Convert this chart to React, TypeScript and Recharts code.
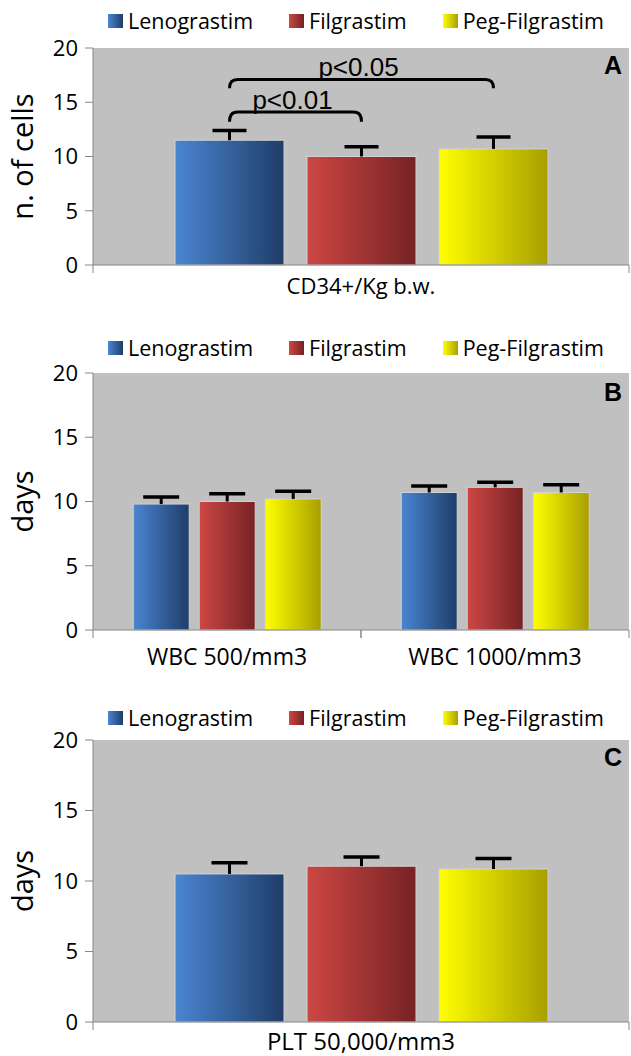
import { BarChart, Bar, XAxis, YAxis, CartesianGrid } from "recharts";

const FONT = "'Open Sans', 'Noto Sans', sans-serif";
const AXIS_GRAY = "#868686";

const seriesNames = ["Lenograstim", "Filgrastim", "Peg-Filgrastim"];
// left / right stop of the horizontal gradient on each bar
const seriesColors = [
  ["#4a86d2", "#1f3d68"],
  ["#cc4744", "#772224"],
  ["#ffff00", "#a89f00"],
];

const yTicks = [0, 5, 10, 15, 20];

// A - CD34+ cells
const cd34Categories = ["CD34+/Kg b.w."];
const cd34Lenograstim = [11.5];
const cd34Filgrastim = [10.0];
const cd34PegFilgrastim = [10.7];
const cd34LenograstimErr = [0.9];
const cd34FilgrastimErr = [0.9];
const cd34PegFilgrastimErr = [1.1];
const cd34Brackets = [
  { from: 0, to: 1, level: 14.1, drop: 0.9, text: "p<0.01" },
  { from: 0, to: 2, level: 17.1, drop: 0.8, text: "p<0.05" },
];

// B - WBC recovery
const wbcCategories = ["WBC 500/mm3", "WBC 1000/mm3"];
const wbcLenograstim = [9.8, 10.7];
const wbcFilgrastim = [10.0, 11.1];
const wbcPegFilgrastim = [10.2, 10.7];
const wbcLenograstimErr = [0.55, 0.5];
const wbcFilgrastimErr = [0.6, 0.4];
const wbcPegFilgrastimErr = [0.6, 0.6];

// C - PLT recovery
const pltCategories = ["PLT 50,000/mm3"];
const pltLenograstim = [10.5];
const pltFilgrastim = [11.05];
const pltPegFilgrastim = [10.85];
const pltLenograstimErr = [0.8];
const pltFilgrastimErr = [0.65];
const pltPegFilgrastimErr = [0.75];

type Row = { name: string; [k: string]: any };

function buildRows(categories: string[], values: number[][], errors: number[][]): Row[] {
  return categories.map((name, i) => {
    const row: Row = { name };
    values.forEach((v, s) => {
      row[`v${s}`] = v[i];
      row[`e${s}`] = errors[s][i];
    });
    return row;
  });
}

function ErrShape(props: any) {
  const { x, y, width, height, cap } = props;
  if (x == null || !height) return null;
  const cx = x + width / 2;
  return (
    <g>
      <line x1={cx} x2={cx} y1={y} y2={y + height} stroke="#000" strokeWidth={3} />
      <line x1={cx - cap} x2={cx + cap} y1={y} y2={y} stroke="#000" strokeWidth={3.5} />
    </g>
  );
}

function CategoryTick(props: any) {
  const { x, y, payload, fontSize, textDy } = props;
  const half = payload?.offset ?? 0;
  return (
    <g>
      <line x1={x - half} x2={x - half} y1={y} y2={y + 8} stroke={AXIS_GRAY} />
      <line x1={x + half} x2={x + half} y1={y} y2={y + 8} stroke={AXIS_GRAY} />
      <text x={x} y={y + textDy} textAnchor="middle" fontSize={fontSize} fontFamily={FONT} fill="#000">
        {payload.value}
      </text>
    </g>
  );
}

function YTitle(props: any) {
  const { text, mid } = props;
  return (
    <text
      x={33}
      y={mid}
      transform={`rotate(-90, 33, ${mid})`}
      textAnchor="middle"
      fontSize={29}
      fontFamily={FONT}
      fill="#000"
    >
      {text}
    </text>
  );
}

function Brackets(props: any) {
  const { rows, brackets, barGap } = props;
  const vb = props.viewBox && props.viewBox.width != null ? props.viewBox : props;
  const { x, y, width, height } = vb;
  if (props.index !== 0 || x == null || !height) return null;
  const base = y + height;
  const perUnit = height / rows[0].v0;
  const centre = (i: number) => x + width / 2 + i * (width + barGap);
  return (
    <g>
      {brackets.map((b: any) => {
        const x1 = centre(b.from);
        const x2 = centre(b.to);
        const yl = base - b.level * perUnit;
        const ye = base - (b.level - b.drop) * perUnit;
        const r = 8;
        const d = `M${x1},${ye} Q${x1},${yl} ${x1 + r},${yl} L${x2 - r},${yl} Q${x2},${yl} ${x2},${ye}`;
        return (
          <g key={b.text}>
            <path d={d} fill="none" stroke="#000" strokeWidth={3} />
            <text
              x={(x1 + x2) / 2 - 3}
              y={yl - 3}
              textAnchor="middle"
              fontSize={26}
              fontFamily="'Liberation Sans', Arial, sans-serif"
              fill="#000"
            >
              {b.text}
            </text>
          </g>
        );
      })}
    </g>
  );
}

function Legend({ top }: { top: number }) {
  return (
    <div
      style={{
        position: "absolute",
        zIndex: 2,
        top,
        left: 108,
        display: "flex",
        alignItems: "center",
        gap: 36,
        fontFamily: FONT,
        fontSize: 21.5,
        lineHeight: "26px",
        whiteSpace: "nowrap",
      }}
    >
      {seriesNames.map((s, i) => (
        <div key={s} style={{ display: "flex", alignItems: "center" }}>
          <span
            style={{
              display: "inline-block",
              width: 15,
              height: 14,
              marginRight: 5,
              background: `linear-gradient(to right, ${seriesColors[i][0]}, ${seriesColors[i][1]})`,
            }}
          />
          <span>{s}</span>
        </div>
      ))}
    </div>
  );
}

type PanelProps = {
  id: string;
  top: number;
  height: number;
  plotTop: number;
  plotBottom: number;
  legendY: number;
  letterY: number;
  rows: Row[];
  yLabel: string;
  labelFont: number;
  labelDy: number;
  barGap: number;
  barCategoryGap: string;
  cap: number;
  brackets?: any[];
};

function Panel(p: PanelProps) {
  const xAxisHeight = 30;
  const marginTop = p.plotTop - p.top;
  const marginBottom = p.top + p.height - p.plotBottom - xAxisHeight;
  const plotMid = marginTop + (p.plotBottom - p.plotTop) / 2;
  return (
    <>
      <div style={{ position: "absolute", top: p.top, left: 0, zIndex: 1 }}>
        <BarChart
          width={631}
          height={p.height}
          data={p.rows}
          margin={{ top: marginTop, right: 2, left: 0, bottom: marginBottom }}
          barGap={p.barGap}
          barCategoryGap={p.barCategoryGap}
        >
          <defs>
            {seriesColors.map((c, i) => (
              <linearGradient key={i} id={`${p.id}-g${i}`} x1="0" y1="0" x2="1" y2="0">
                <stop offset="0%" stopColor={c[0]} />
                <stop offset="100%" stopColor={c[1]} />
              </linearGradient>
            ))}
          </defs>
          <CartesianGrid fill="#c0c0c0" horizontal={false} vertical={false} />
          <XAxis
            dataKey="name"
            height={xAxisHeight}
            interval={0}
            tickSize={0}
            tickMargin={0}
            axisLine={{ stroke: AXIS_GRAY }}
            tick={(t: any) => <CategoryTick {...t} fontSize={p.labelFont} textDy={p.labelDy} />}
          />
          <YAxis
            width={93}
            domain={[0, 20]}
            ticks={yTicks}
            interval={0}
            tickSize={8}
            tickMargin={7}
            axisLine={{ stroke: AXIS_GRAY }}
            tickLine={{ stroke: AXIS_GRAY }}
            tick={{ fontSize: 22, fill: "#000", fontFamily: FONT }}
            label={<YTitle text={p.yLabel} mid={plotMid} />}
          />
          {seriesNames.map((s, i) => (
            <Bar
              key={`v${i}`}
              name={s}
              dataKey={`v${i}`}
              stackId={`s${i}`}
              fill={`url(#${p.id}-g${i})`}
              stroke="#d2d2d2"
              strokeWidth={1}
              isAnimationActive={false}
              label={
                i === 0 && p.brackets
                  ? (lp: any) => <Brackets {...lp} rows={p.rows} brackets={p.brackets} barGap={p.barGap} />
                  : false
              }
            />
          ))}
          {seriesNames.map((s, i) => (
            <Bar
              key={`e${i}`}
              dataKey={`e${i}`}
              stackId={`s${i}`}
              fill="none"
              isAnimationActive={false}
              shape={(sp: any) => <ErrShape {...sp} cap={p.cap} />}
            />
          ))}
        </BarChart>
      </div>
      <Legend top={p.legendY - 13} />
      <div
        style={{
          position: "absolute",
          zIndex: 2,
          top: p.letterY - 15,
          left: 604,
          fontFamily: "'Liberation Sans', Arial, sans-serif",
          fontWeight: "bold",
          fontSize: 25,
          lineHeight: "30px",
        }}
      >
        {p.id}
      </div>
    </>
  );
}

const rowsA = buildRows(
  cd34Categories,
  [cd34Lenograstim, cd34Filgrastim, cd34PegFilgrastim],
  [cd34LenograstimErr, cd34FilgrastimErr, cd34PegFilgrastimErr]
);
const rowsB = buildRows(
  wbcCategories,
  [wbcLenograstim, wbcFilgrastim, wbcPegFilgrastim],
  [wbcLenograstimErr, wbcFilgrastimErr, wbcPegFilgrastimErr]
);
const rowsC = buildRows(
  pltCategories,
  [pltLenograstim, pltFilgrastim, pltPegFilgrastim],
  [pltLenograstimErr, pltFilgrastimErr, pltPegFilgrastimErr]
);

export default function App() {
  return (
    <div
      style={{
        position: "absolute",
        top: 0,
        left: 0,
        width: 631,
        height: 1056,
        background: "#fff",
        overflow: "hidden",
      }}
    >
      <Panel
        id="A"
        top={30}
        height={280}
        plotTop={48}
        plotBottom={265}
        legendY={21}
        letterY={65}
        rows={rowsA}
        yLabel="n. of cells"
        labelFont={22}
        labelDy={29}
        barGap={23}
        barCategoryGap="15.3%"
        cap={17}
        brackets={cd34Brackets}
      />
      <Panel
        id="B"
        top={345}
        height={335}
        plotTop={373}
        plotBottom={630}
        legendY={348}
        letterY={392}
        rows={rowsB}
        yLabel="days"
        labelFont={23}
        labelDy={35}
        barGap={10}
        barCategoryGap="15%"
        cap={18}
      />
      <Panel
        id="C"
        top={715}
        height={341}
        plotTop={740}
        plotBottom={1022}
        legendY={718}
        letterY={757}
        rows={rowsC}
        yLabel="days"
        labelFont={24}
        labelDy={28}
        barGap={23}
        barCategoryGap="15.3%"
        cap={18}
      />
    </div>
  );
}
